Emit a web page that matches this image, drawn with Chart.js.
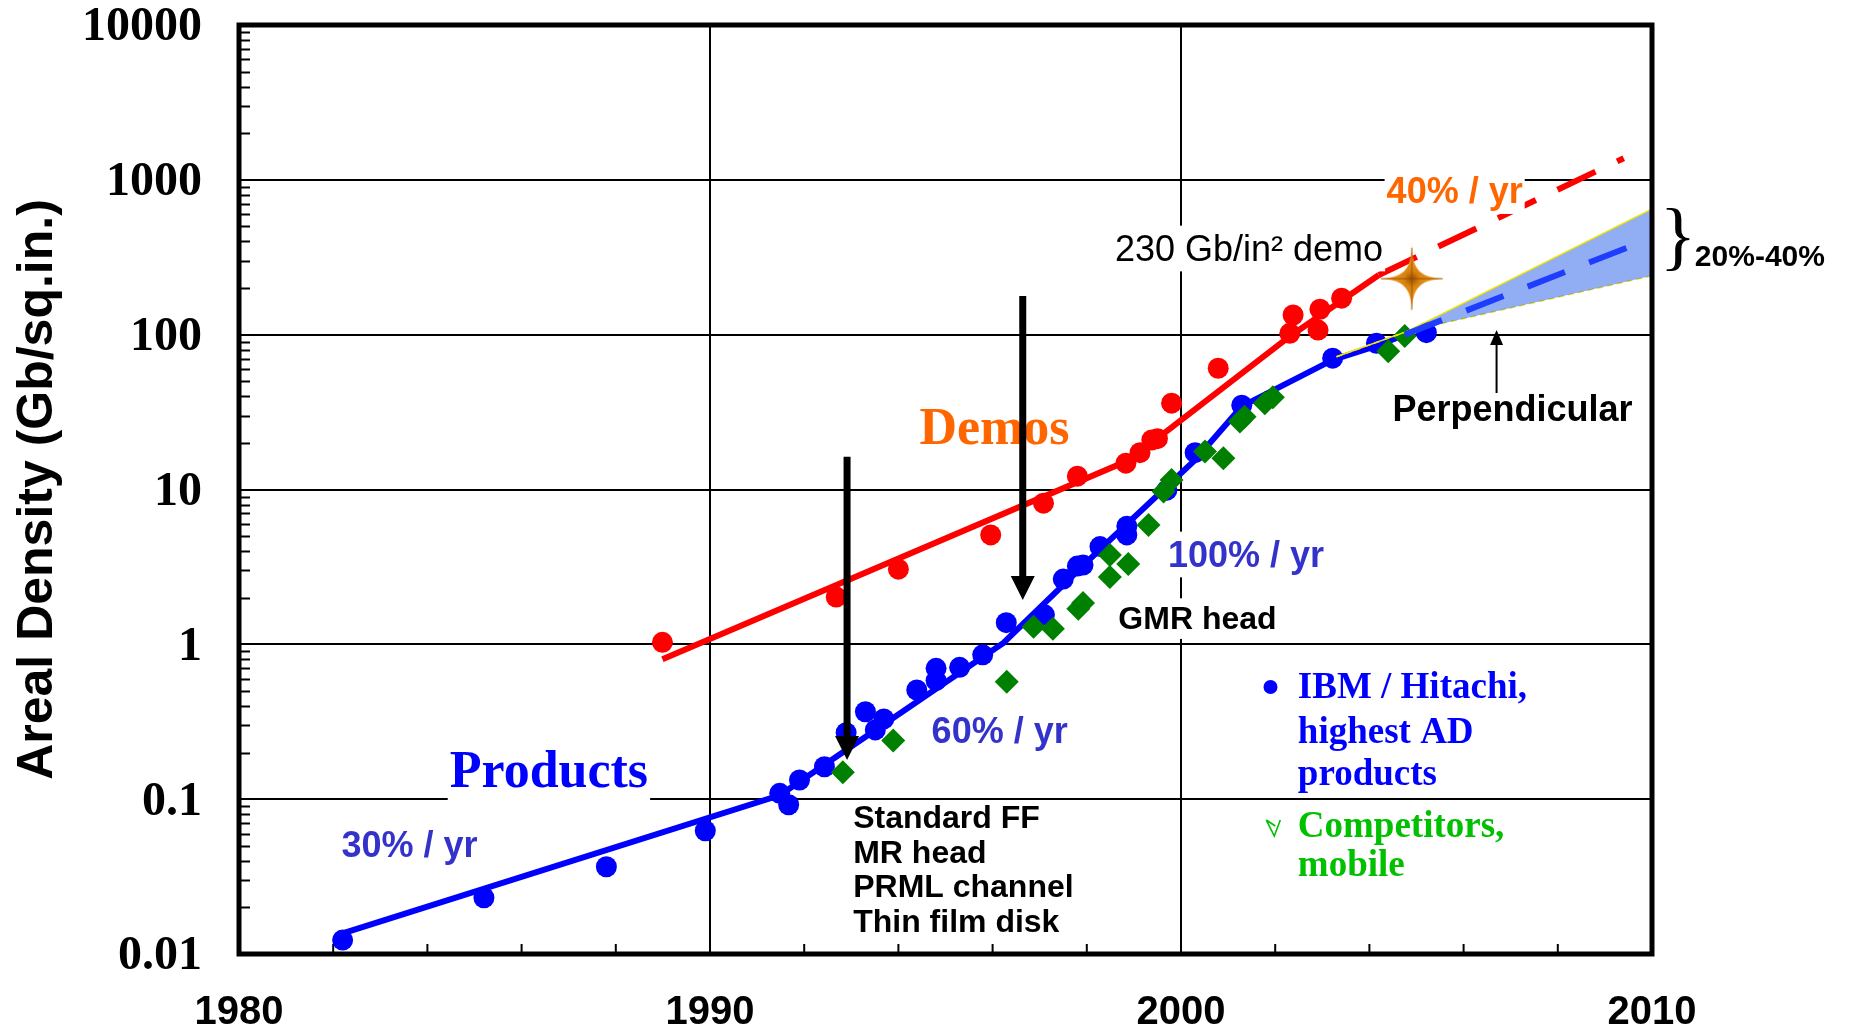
<!DOCTYPE html>
<html>
<head>
<meta charset="utf-8">
<title>Areal Density</title>
<script src="https://cdn.jsdelivr.net/npm/chart.js@4.4.1/dist/chart.umd.min.js"></script>
<style>
  html, body { margin: 0; padding: 0; background: #ffffff; }
  #wrap { width: 1852px; height: 1031px; }
  canvas { display: block; }
</style>
</head>
<body>
<div id="wrap"><canvas id="chart" width="1852" height="1031"></canvas></div>
<script>
// Axis ticks
const yearTicks = [1980, 1990, 2000, 2010];
const densityTicks = [0.01, 0.1, 1, 10, 100, 1000, 10000];
const densityTickLabels = ['0.01', '0.1', '1', '10', '100', '1000', '10000'];

// IBM / Hitachi highest areal-density products (Gb/sq.in.)
const productYears = [1982.2, 1985.2, 1987.8, 1989.9, 1991.48, 1991.67, 1991.9, 1992.43, 1992.89, 1993.3,
  1993.51, 1993.69, 1994.39, 1994.8, 1994.8, 1995.3, 1995.79, 1996.29, 1997.1, 1997.5,
  1997.8, 1997.92, 1998.28, 1998.85, 1998.85, 1999.7, 2000.3, 2001.29, 2003.22, 2004.15, 2005.21];
const productDensity = [0.0123, 0.0231, 0.0366, 0.0625, 0.109, 0.092, 0.133, 0.162, 0.269, 0.367,
  0.28, 0.33, 0.507, 0.583, 0.70, 0.71, 0.855, 1.38, 1.55, 2.64,
  3.2, 3.25, 4.28, 5.09, 5.8, 9.9, 17.3, 35, 70.5, 88, 103];

// Competitors, mobile drives
const competitorYears = [1992.82, 1993.89, 1996.3, 1996.87, 1997.28, 1997.82, 1997.92, 1998.49, 1998.49, 1998.88,
  1999.31, 1999.63, 1999.8, 2000.51, 2000.9, 2001.25, 2001.35, 2001.78, 2001.95, 2004.4, 2004.75];
const competitorDensity = [0.149, 0.239, 0.574, 1.30, 1.26, 1.70, 1.85, 2.72, 3.78, 3.3,
  5.9, 9.7, 11.5, 17.6, 15.9, 27.5, 29.5, 36, 39.5, 78, 98];

// Laboratory demonstrations
const demoYears = [1988.99, 1992.68, 1994.0, 1995.96, 1997.08, 1997.8, 1998.83, 1999.13, 1999.38, 1999.5,
  1999.8, 2000.79, 2002.31, 2002.38, 2002.91, 2002.95, 2003.41];
const demoDensity = [1.03, 2.02, 3.06, 5.09, 8.16, 12.2, 14.8, 17.3, 20.9, 21.3,
  36.1, 60.7, 102, 134, 107, 146, 172];

// Trend lines
const productTrendYears = [1982.2, 1991.48, 1996.23, 1998.28, 2000.3, 2001.29, 2003.22, 2004.15, 2004.75];
const productTrend = [0.0136, 0.106, 1.02, 4.1, 15.5, 34.4, 68.7, 84.7, 100];
const demoTrendYears = [1988.99, 1998.9, 2002.3, 2004.2];
const demoTrend = [0.80, 15.5, 97, 243];
const demoOutlookYears = [2004.2, 2009.4];
const demoOutlook = [243, 1380];

// Perpendicular recording outlook, 20%-40% per year
const bandYears = [2003.3, 2004.8, 2010];
const bandHigh = [72, 105, 650];
const bandLow = [72, 105, 240];
const perpYears = [2004.75, 2009.9];
const perpMid = [100, 410];

// 230 Gb/in2 demonstration
const starYears = [2004.9];
const starDensity = [230];

const asPoints = (xs, ys) => xs.map((x, i) => ({ x: x, y: ys[i] }));

// Four-pointed gold spark used for the 230 Gb/in2 demo
const spark = (() => {
  const s = 74, m = s / 2, k = 8;
  const c = document.createElement('canvas');
  c.width = s; c.height = s;
  const g = c.getContext('2d');
  g.beginPath();
  g.moveTo(m, 0);
  g.bezierCurveTo(m, m - k, m + k, m, s, m);
  g.bezierCurveTo(m + k, m, m, m + k, m, s);
  g.bezierCurveTo(m, m + k, m - k, m, 0, m);
  g.bezierCurveTo(m - k, m, m, m - k, m, 0);
  g.closePath();
  const grad = g.createRadialGradient(m, m, 0, m, m, m);
  grad.addColorStop(0, '#9a5200');
  grad.addColorStop(0.22, '#d98410');
  grad.addColorStop(0.6, '#f29a1c');
  grad.addColorStop(1, '#f8b43a');
  g.fillStyle = grad;
  g.fill();
  // darker ridges along the arms
  g.strokeStyle = 'rgba(140, 70, 0, 0.55)';
  g.lineWidth = 1.5;
  g.beginPath();
  g.moveTo(m, 6); g.lineTo(m, s - 6);
  g.moveTo(6, m); g.lineTo(s - 6, m);
  g.stroke();
  return c;
})();

const SANS = '"Liberation Sans", Arial, sans-serif';
const SERIF = '"Liberation Serif", "Times New Roman", serif';

// Text placed in data coordinates (x: year, y: baseline density)
const notes = [
  { text: 'Products', x: 1986.58, y: 0.1204, size: 52, font: 'bold 52px ' + SERIF, color: '#0000ff', box: true },
  { text: '30% / yr', x: 1983.62, y: 0.0425, size: 36, font: 'bold 36px ' + SANS, color: '#3333cc' },
  { text: '60% / yr', x: 1996.15, y: 0.2317, size: 36, font: 'bold 36px ' + SANS, color: '#3333cc' },
  { text: '100% / yr', x: 2001.38, y: 3.18, size: 36, font: 'bold 36px ' + SANS, color: '#3333cc', box: true },
  { text: 'GMR head', x: 2000.35, y: 1.25, size: 32, font: 'bold 32px ' + SANS, color: '#000000', box: true },
  { text: 'Demos', x: 1996.04, y: 19.7, size: 52, font: 'bold 52px ' + SERIF, color: '#ff6600' },
  { text: '40% / yr', x: 2005.81, y: 707, size: 36, font: 'bold 36px ' + SANS, color: '#ff6600', box: true },
  { text: '230 Gb/in\u00b2 demo', x: 2004.29, y: 301, size: 36, font: '36px ' + SANS, color: '#000000', align: 'right', box: true },
  { text: 'Perpendicular', x: 2007.04, y: 27.7, size: 36, font: 'bold 36px ' + SANS, color: '#000000' },
  { text: 'Standard FF', x: 1993.04, y: 0.0648, size: 32, font: 'bold 32px ' + SANS, color: '#000000', align: 'left' },
  { text: 'MR head', x: 1993.04, y: 0.0388, size: 32, font: 'bold 32px ' + SANS, color: '#000000', align: 'left' },
  { text: 'PRML channel', x: 1993.04, y: 0.02317, size: 32, font: 'bold 32px ' + SANS, color: '#000000', align: 'left' },
  { text: 'Thin film disk', x: 1993.04, y: 0.01385, size: 32, font: 'bold 32px ' + SANS, color: '#000000', align: 'left' },
  { text: 'IBM / Hitachi,', x: 2002.48, y: 0.448, size: 37, font: 'bold 37px ' + SERIF, color: '#0000ff', align: 'left' },
  { text: 'highest AD', x: 2002.48, y: 0.2295, size: 37, font: 'bold 37px ' + SERIF, color: '#0000ff', align: 'left' },
  { text: 'products', x: 2002.48, y: 0.1234, size: 37, font: 'bold 37px ' + SERIF, color: '#0000ff', align: 'left' },
  { text: 'Competitors,', x: 2002.48, y: 0.0567, size: 37, font: 'bold 37px ' + SERIF, color: '#00c000', align: 'left' },
  { text: 'mobile', x: 2002.48, y: 0.0319, size: 37, font: 'bold 37px ' + SERIF, color: '#00c000', align: 'left' },
  { text: '}', x: 2010.55, y: 300, size: 76, font: '76px ' + SERIF, color: '#000000' },
  { text: '20%-40%', x: 2010.91, y: 278, size: 30, font: 'bold 30px ' + SANS, color: '#000000', align: 'left' }
];

// Vertical arrows: year, start density, tip density
const arrows = [
  { x: 1992.91, from: 16.3, to: 0.179, lw: 7, hw: 24, hh: 24 },
  { x: 1996.64, from: 178, to: 1.934, lw: 7, hw: 24, hh: 24 },
  { x: 2006.7, from: 42, to: 107, lw: 2, hw: 13, hh: 15 }
];

const decor = {
  id: 'decor',
  beforeDatasetsDraw(chart) {
    const { ctx, chartArea: a, scales: { x, y } } = chart;
    ctx.save();
    ctx.strokeStyle = '#000';
    ctx.lineWidth = 2;
    ctx.beginPath();
    // minor log ticks inside the left axis
    for (let e = -2; e < 4; e++) {
      for (let m = 2; m <= 9; m++) {
        const py = Math.round(y.getPixelForValue(m * Math.pow(10, e))) + 0.5;
        ctx.moveTo(a.left, py);
        ctx.lineTo(a.left + 11, py);
      }
    }
    // two-year ticks inside the bottom axis
    for (let yr = 1982; yr < 2010; yr += 2) {
      if (yr % 10 === 0) continue;
      const px = x.getPixelForValue(yr);
      ctx.moveTo(px, a.bottom);
      ctx.lineTo(px, a.bottom - 10);
    }
    ctx.stroke();
    ctx.restore();
  },
  afterDatasetsDraw(chart) {
    const { ctx, chartArea: a, scales: { x, y } } = chart;
    ctx.save();

    // plot frame
    ctx.strokeStyle = '#000';
    ctx.lineWidth = 5;
    ctx.strokeRect(a.left, a.top, a.right - a.left, a.bottom - a.top);

    // text notes
    ctx.textBaseline = 'alphabetic';
    notes.forEach(n => {
      const align = n.align || 'center';
      const px = x.getPixelForValue(n.x);
      const py = y.getPixelForValue(n.y);
      ctx.font = n.font;
      ctx.textAlign = align;
      if (n.box) {
        const w = ctx.measureText(n.text).width;
        const left = align === 'center' ? px - w / 2 : (align === 'right' ? px - w : px);
        ctx.fillStyle = '#ffffff';
        ctx.fillRect(left - 2, py - n.size * 0.97, w + 4, n.size * 1.27);
      }
      ctx.fillStyle = n.color;
      ctx.fillText(n.text, px, py);
    });

    // legend markers
    const bx = x.getPixelForValue(2001.9), by = y.getPixelForValue(0.53);
    ctx.fillStyle = '#0000ff';
    ctx.beginPath();
    ctx.arc(bx, by, 7, 0, Math.PI * 2);
    ctx.fill();
    const gx = x.getPixelForValue(2001.96), gy = y.getPixelForValue(0.0651);
    ctx.strokeStyle = '#00c000';
    ctx.lineWidth = 1.6;
    ctx.beginPath();
    ctx.moveTo(gx - 7, gy - 8);
    ctx.lineTo(gx + 1, gy + 8);
    ctx.lineTo(gx + 7, gy - 8);
    ctx.moveTo(gx - 7, gy - 8);
    ctx.lineTo(gx + 2, gy - 2);
    ctx.stroke();

    // arrows
    ctx.fillStyle = '#000';
    ctx.strokeStyle = '#000';
    arrows.forEach(ar => {
      const px = x.getPixelForValue(ar.x);
      const y0 = y.getPixelForValue(ar.from);
      const y1 = y.getPixelForValue(ar.to);
      const dir = Math.sign(y1 - y0);
      ctx.lineWidth = ar.lw;
      ctx.beginPath();
      ctx.moveTo(px, y0);
      ctx.lineTo(px, y1 - dir * ar.hh * 0.6);
      ctx.stroke();
      ctx.beginPath();
      ctx.moveTo(px, y1);
      ctx.lineTo(px - ar.hw / 2, y1 - dir * ar.hh);
      ctx.lineTo(px + ar.hw / 2, y1 - dir * ar.hh);
      ctx.closePath();
      ctx.fill();
    });

    // y-axis title
    ctx.save();
    ctx.translate(52, (a.top + a.bottom) / 2);
    ctx.rotate(-Math.PI / 2);
    ctx.font = 'bold 50px ' + SANS;
    ctx.fillStyle = '#000';
    ctx.textAlign = 'center';
    ctx.textBaseline = 'alphabetic';
    ctx.fillText('Areal Density (Gb/sq.in.)', 0, 0);
    ctx.restore();

    ctx.restore();
  }
};

const pointSet = (label, xs, ys, color, style, radius, order) => ({
  label: label,
  data: asPoints(xs, ys),
  showLine: false,
  pointStyle: style,
  pointRadius: radius,
  pointHoverRadius: radius,
  pointBackgroundColor: color,
  pointBorderColor: color,
  pointBorderWidth: 0,
  order: order
});

const lineSet = (label, xs, ys, color, width, dash, order) => ({
  label: label,
  data: asPoints(xs, ys),
  showLine: true,
  borderColor: color,
  borderWidth: width,
  borderDash: dash,
  pointRadius: 0,
  pointHoverRadius: 0,
  fill: false,
  tension: 0,
  order: order
});

const bandUpper = lineSet('20%-40% upper', bandYears, bandHigh, '#f0e400', 1.5, [], 2);
bandUpper.fill = '+1';
bandUpper.backgroundColor = 'rgba(55, 105, 235, 0.55)';
const bandLower = lineSet('20%-40% lower', bandYears, bandLow, '#f0e400', 1.5, [6, 4], 3);

const starSet = pointSet('230 Gb/in\u00b2 demo', starYears, starDensity, '#e08a10', spark, 37, 0);

new Chart(document.getElementById('chart'), {
  type: 'scatter',
  data: {
    datasets: [
      starSet,
      lineSet('Perpendicular', perpYears, perpMid, '#1f3dff', 6, [40, 26], 1),
      bandUpper,
      bandLower,
      pointSet('Competitors, mobile', competitorYears, competitorDensity, '#008000', 'rectRot', 12, 4),
      pointSet('IBM / Hitachi, highest AD products', productYears, productDensity, '#0000ff', 'circle', 10.5, 5),
      lineSet('Products', productTrendYears, productTrend, '#0000ff', 6, [], 6),
      lineSet('40% / yr', demoOutlookYears, demoOutlook, '#ff0000', 6, [42, 24], 7),
      pointSet('Demos', demoYears, demoDensity, '#ff0000', 'circle', 10.5, 8),
      lineSet('Demos trend', demoTrendYears, demoTrend, '#ff0000', 6, [], 9)
    ]
  },
  options: {
    responsive: false,
    animation: false,
    devicePixelRatio: 1,
    events: [],
    layout: { autoPadding: false, padding: { top: 25, right: 200, bottom: 0, left: 0 } },
    plugins: { legend: { display: false }, tooltip: { enabled: false }, title: { display: false } },
    scales: {
      x: {
        type: 'linear',
        position: 'bottom',
        min: 1980,
        max: 2010,
        afterBuildTicks: s => { s.ticks = yearTicks.map(v => ({ value: v })); },
        afterFit: s => { s.height = 77; s.paddingLeft = 0; s.paddingRight = 0; s.paddingTop = 0; s.paddingBottom = 0; },
        grid: { color: '#000000', lineWidth: 2, drawTicks: false },
        border: { display: false },
        ticks: {
          autoSkip: false,
          maxRotation: 0,
          padding: 35,
          color: '#000000',
          font: { family: 'Liberation Sans', weight: 'bold', size: 40 },
          callback: (v, i) => String(yearTicks[i])
        }
      },
      y: {
        type: 'logarithmic',
        position: 'left',
        min: 0.01,
        max: 10000,
        afterBuildTicks: s => { s.ticks = densityTicks.map(v => ({ value: v })); },
        afterFit: s => { s.width = 239; s.paddingLeft = 0; s.paddingRight = 0; s.paddingTop = 0; s.paddingBottom = 0; },
        grid: { color: '#000000', lineWidth: 2, drawTicks: false },
        border: { display: false },
        ticks: {
          autoSkip: false,
          padding: 37,
          labelOffset: 3,
          color: '#000000',
          font: { family: 'Liberation Serif', weight: 'bold', size: 48 },
          callback: (v, i) => densityTickLabels[i]
        }
      }
    }
  },
  plugins: [decor]
});
</script>
</body>
</html>
